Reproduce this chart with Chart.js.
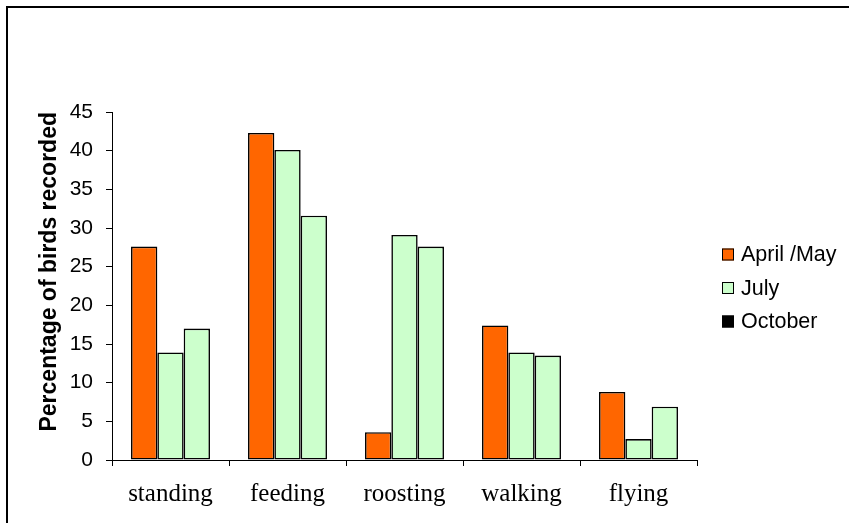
<!DOCTYPE html>
<html>
<head>
<meta charset="utf-8">
<script src="https://cdn.jsdelivr.net/npm/chart.js@4.4.1/dist/chart.umd.min.js"></script>
<style>
html,body{margin:0;padding:0;background:#fff;}
#wrap{width:849px;height:523px;position:relative;}
</style>
</head>
<body>
<div id="wrap"><canvas id="birdChart" width="849" height="523"></canvas></div>
<script>
// data
const categories = ['standing', 'feeding', 'roosting', 'walking', 'flying'];
const seriesNames = ['April /May', 'July', 'October'];
const aprilMay = [27.6, 42.3, 3.6, 17.4, 8.8];
const july = [13.9, 40.1, 29.1, 13.9, 2.7];
const october = [17.0, 31.6, 27.6, 13.5, 6.9];
const yMin = 0, yMax = 45, yStep = 5;

const orange = '#FF6600', paleGreen = '#CCFFCC';
const legendBoxColors = [orange, paleGreen, '#000000'];

// frame (left + top only) and the hand-placed legend on the right
const extras = {
    id: 'extras',
    afterDraw(chart){
        const c = chart.ctx;
        c.save();
        c.strokeStyle = '#000'; c.lineWidth = 2;
        c.beginPath();
        c.moveTo(7, 523); c.lineTo(7, 7); c.lineTo(849, 7);
        c.stroke();

        c.font = '21.5px "Liberation Sans", Arial, sans-serif';
        c.textBaseline = 'middle'; c.textAlign = 'left';
        seriesNames.forEach((name, i) => {
            const cy = 254.5 + i * 33.5;
            c.fillStyle = legendBoxColors[i];
            c.fillRect(722, cy - 6, 12, 12);
            c.strokeStyle = '#000'; c.lineWidth = 1;
            c.strokeRect(722.5, cy - 5.5, 11, 11);
            c.fillStyle = '#000';
            c.fillText(name, 741, cy + 1);
        });
        c.restore();
    }
};

const ctx = document.getElementById('birdChart').getContext('2d');
const birdChart = new Chart(ctx, {
    type: 'bar',
    data: {
        labels: categories,
        datasets: [
            {label: seriesNames[0], data: aprilMay, backgroundColor: orange},
            {label: seriesNames[1], data: july, backgroundColor: paleGreen},
            {label: seriesNames[2], data: october, backgroundColor: paleGreen}
        ]
    },
    options: {
        responsive: false,
        animation: false,
        devicePixelRatio: 1,
        layout: {padding: {left: 0, top: 112, right: 152, bottom: 0}},
        datasets: {bar: {categoryPercentage: 0.675, barPercentage: 1, borderColor: '#000', borderWidth: 1.6, borderSkipped: false}},
        plugins: {legend: {display: false}, tooltip: {enabled: false}},
        scales: {
            x: {
                grid: {display: true, drawOnChartArea: false, color: '#000', tickLength: 6, offset: true},
                border: {color: '#000', width: 1},
                ticks: {color: '#000', padding: 13, font: {family: '"Liberation Serif", "Times New Roman", serif', size: 25}},
                afterFit(scale){ scale.height = 63; }
            },
            y: {
                min: yMin, max: yMax,
                grid: {display: true, drawOnChartArea: false, color: '#000', tickLength: 6},
                border: {color: '#000', width: 1},
                ticks: {stepSize: yStep, color: '#000', padding: 13, font: {family: '"Liberation Sans", Arial, sans-serif', size: 21}},
                title: {
                    display: true, text: 'Percentage of birds recorded', color: '#000', align: 'end',
                    padding: {top: 36, bottom: 0},
                    font: {family: '"Liberation Sans", Arial, sans-serif', size: 23, weight: 'bold'}
                },
                afterFit(scale){ scale.width = 112; }
            }
        }
    },
    plugins: [extras]
});
</script>
</body>
</html>
